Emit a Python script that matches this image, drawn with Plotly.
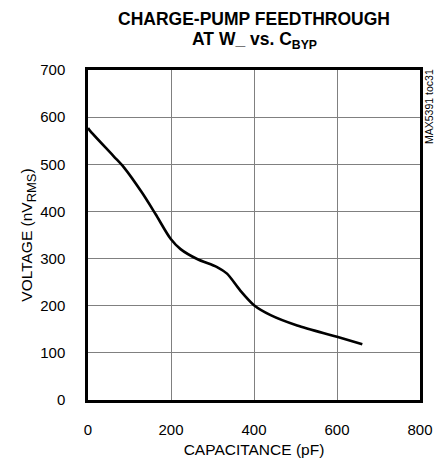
import plotly.graph_objects as go

capacitance_pf = [0, 4, 62, 86, 130, 163, 199, 223, 263, 311, 335, 367, 400, 440, 504, 600, 661]
voltage_nvrms = [577, 572, 517, 494, 440, 394, 342, 320, 299, 282, 268, 232, 201, 180, 158, 134, 118]

x_ticks = [0, 200, 400, 600, 800]
y_ticks = [0, 100, 200, 300, 400, 500, 600, 700]

title_lines = ["CHARGE-PUMP FEEDTHROUGH", "AT W_ vs. C<sub>BYP</sub>"]

FONT = "Liberation Sans, Arial, sans-serif"
W, H = 435, 458
ML, MR, MT, MB = 88, 15, 70, 58

plot_w = W - ML - MR
plot_h = H - MT - MB


def px_x(px):
    return (px - ML) / plot_w


def px_y(px):
    return (H - MB - px) / plot_h


fig = go.Figure()
fig.add_trace(go.Scatter(
    x=capacitance_pf, y=voltage_nvrms, mode="lines",
    line=dict(color="black", width=2.6, shape="spline", smoothing=0.8),
    showlegend=False, hoverinfo="skip",
))

fig.update_layout(
    width=W, height=H,
    margin=dict(l=ML, r=MR, t=MT, b=MB, autoexpand=False),
    paper_bgcolor="white", plot_bgcolor="white",
    font=dict(family=FONT, size=15, color="black"),
    xaxis=dict(
        range=[0, 800], tickvals=x_ticks, ticktext=[str(v) for v in x_ticks],
        showgrid=True, gridcolor="#808080", gridwidth=1,
        showline=True, linecolor="black", linewidth=2.5, mirror=True,
        ticks="", ticklabelstandoff=14, zeroline=False, automargin=False,
        tickfont=dict(family=FONT, size=15),
        title=dict(text="CAPACITANCE (pF)", standoff=14, font=dict(family=FONT, size=15.5)),
        fixedrange=True,
    ),
    yaxis=dict(
        range=[0, 700], tickvals=y_ticks, ticktext=[str(v) for v in y_ticks],
        showgrid=True, gridcolor="#808080", gridwidth=1,
        showline=True, linecolor="black", linewidth=2.5, mirror=True,
        ticks="", ticklabelstandoff=17, zeroline=False, automargin=False,
        tickfont=dict(family=FONT, size=15),
        title=dict(text="VOLTAGE (nV<sub><span style='font-size:13px'>RMS</span></sub>)",
                   standoff=4, font=dict(family=FONT, size=15.5)),
        fixedrange=True,
    ),
    annotations=[
        dict(
            text="<b>" + title_lines[0] + "</b>",
            x=0.5, y=px_y(18.5), xref="paper", yref="paper",
            xanchor="center", yanchor="middle", showarrow=False,
            font=dict(family=FONT, size=17.5, color="black"),
        ),
        dict(
            text="<b>" + title_lines[1] + "</b>",
            x=0.5, y=px_y(40.5), xref="paper", yref="paper",
            xanchor="center", yanchor="middle", showarrow=False,
            font=dict(family=FONT, size=17.5, color="black"),
        ),
        dict(
            text="MAX5391 toc31",
            x=px_x(429), y=px_y(106),
            xref="paper", yref="paper", xanchor="center", yanchor="middle",
            showarrow=False, textangle=-90,
            font=dict(family=FONT, size=10.5, color="black"),
        ),
    ],
)

fig.write_html("out.html", config={"displayModeBar": False},
               post_script="document.body.style.margin='0';")
